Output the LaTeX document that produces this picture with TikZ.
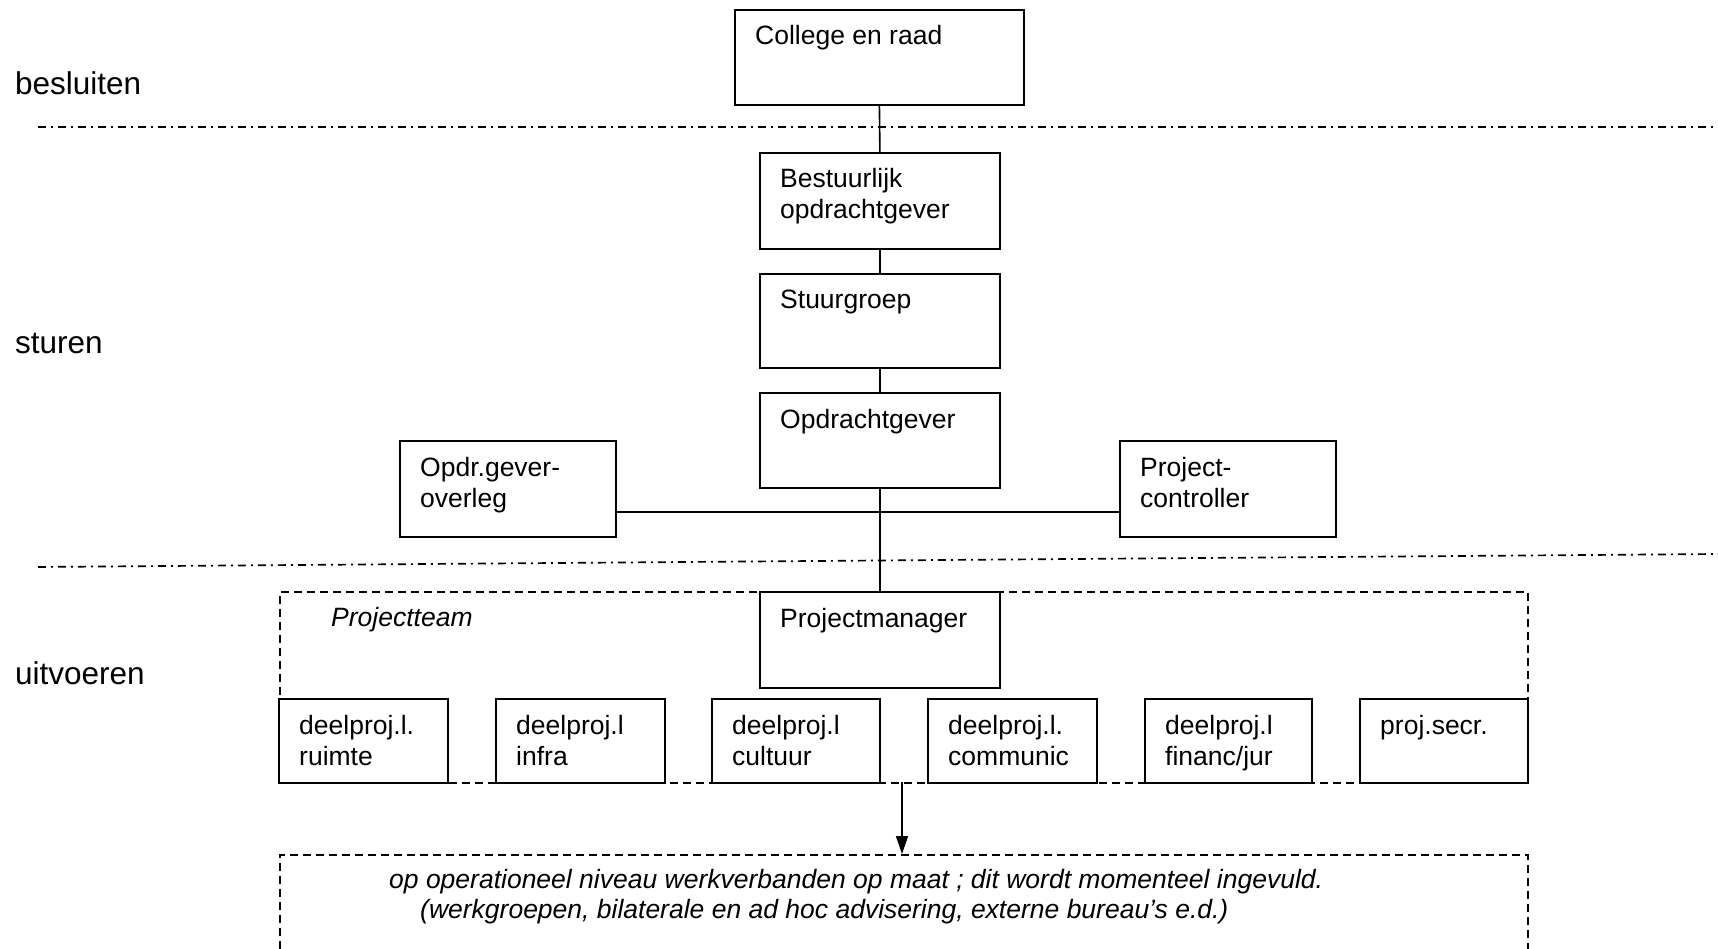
\documentclass[tikz,border=0pt]{standalone}
\usepackage{fontspec}
\setmainfont{Liberation Sans}
\usetikzlibrary{arrows.meta}
\newcommand\obox[6]{%
  \node[orgbox, minimum width=#4pt, minimum height=#5pt, anchor=north west] (#1) at (#2,#3) {};
  \node[boxtext] (#1t) at ([xshift=21pt,yshift=-36pt]#1.north west) {#6};}
\newcommand\oboxtwo[7]{%
  \obox{#1}{#2}{#3}{#4}{#5}{#6}
  \node[boxtext] (#1u) at ([yshift=-31pt]#1t.base west) {#7};}
\begin{document}
\begin{tikzpicture}[x=1pt,y=-1pt,
  orgbox/.style={draw, fill=white, line width=1.8pt, inner sep=0pt},
  teambox/.style={draw, line width=1.6pt, dash pattern=on 8pt off 5pt, inner sep=0pt},
  boxtext/.style={anchor=base west, inner sep=0pt, font=\fontsize{26.5}{31}\selectfont},
  sidetext/.style={anchor=base west, inner sep=0pt, font=\fontsize{31.5}{36}\selectfont},
  conn/.style={line width=1.6pt},
  levelline/.style={line width=1.7pt, dash pattern=on 8pt off 5pt on 2pt off 5pt},
  arr/.style={line width=1.6pt, -{Triangle[length=18pt,width=12pt]}}]
\clip (0,0) rectangle (1718,949);
\fill[white] (0,0) rectangle (1718,949);

% level separators
\coordinate (l1a) at (38,127); \coordinate (l1b) at (1718,127);
\coordinate (l2a) at (38,567); \coordinate (l2b) at (1718,554);
\draw[levelline] (l1a) -- (l1b);
\draw[levelline] (l2a) -- (l2b);

% side labels
\node[sidetext] (s1) at (15,95) {besluiten};
\node[sidetext] (s2) at (15,353) {sturen};
\node[sidetext] (s3) at (15,684) {uitvoeren};

% project team frame
\node[teambox, minimum width=1248pt, minimum height=191pt, anchor=north west] (pt) at (279,591) {};
\node[boxtext, font=\fontsize{26.5}{31}\selectfont\itshape] (ptt) at (331,626) {Projectteam};

% boxes
\obox{cr}{734}{9}{289}{95}{College en raad}
\oboxtwo{bo}{759}{152}{240}{96}{Bestuurlijk}{opdrachtgever}
\obox{sg}{759}{273}{240}{94}{Stuurgroep}
\obox{og}{759}{392}{240}{95}{Opdrachtgever}
\oboxtwo{ov}{399}{440}{216}{96}{Opdr.gever-}{overleg}
\oboxtwo{pc}{1119}{440}{216}{96}{Project-}{controller}
\obox{pm}{759}{591}{240}{96}{Projectmanager}
\oboxtwo{d1}{278}{698}{169}{84}{deelproj.l.}{ruimte}
\oboxtwo{d2}{495}{698}{169}{84}{deelproj.l}{infra}
\oboxtwo{d3}{711}{698}{168}{84}{deelproj.l}{cultuur}
\oboxtwo{d4}{927}{698}{169}{84}{deelproj.l.}{communic}
\oboxtwo{d5}{1144}{698}{167}{84}{deelproj.l}{financ/jur}
\obox{d6}{1359}{698}{168}{84}{proj.secr.}

% connectors
\draw[conn] (cr.south) -- (bo.north);
\draw[conn] (bo.south) -- (sg.north);
\draw[conn] (sg.south) -- (og.north);
\draw[conn] (og.south) -- (pm.north);
\coordinate (jn) at (879,512);
\draw[conn] (ov.east |- jn) -- (pc.west |- jn);

% operational frame
\node[teambox, minimum width=1248pt, minimum height=200pt, anchor=north west] (ob) at (279,854) {};
\coordinate (as) at (902,782);
\draw[arr] (as) -- (as |- ob.north);
\node[boxtext, font=\fontsize{26.5}{31}\selectfont\itshape] (ot1) at (389,888) {op operationeel niveau werkverbanden op maat ; dit wordt momenteel ingevuld.};
\node[boxtext, font=\fontsize{26.5}{31}\selectfont\itshape] (ot2) at (420,918) {(werkgroepen, bilaterale en ad hoc advisering, externe bureau’s e.d.)};
\end{tikzpicture}
\end{document}
